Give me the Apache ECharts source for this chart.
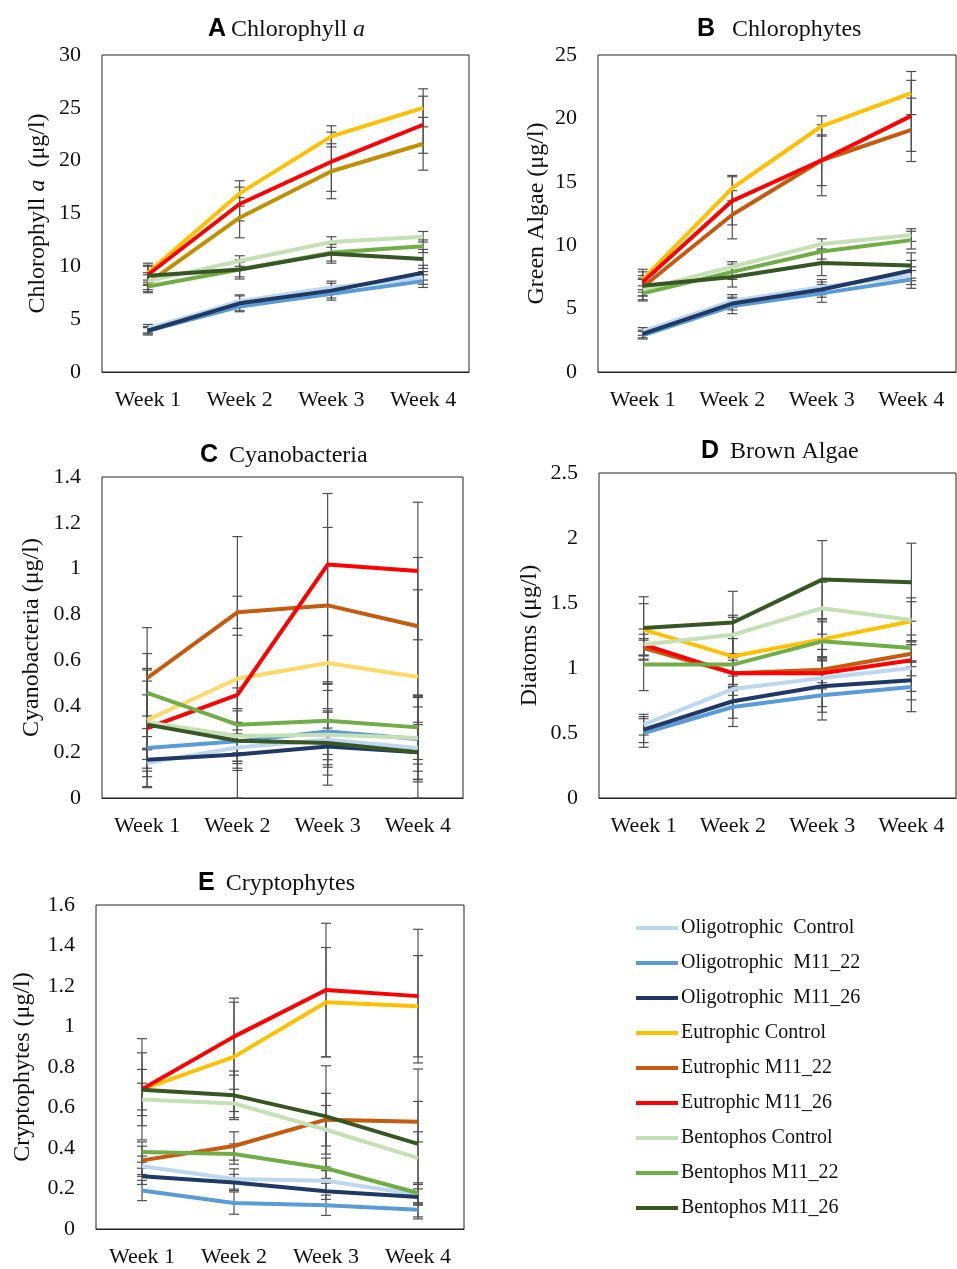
<!DOCTYPE html>
<html>
<head>
<meta charset="utf-8">
<script src="https://cdn.jsdelivr.net/npm/echarts@6/dist/echarts.min.js"></script>
<style>
  html, body { margin: 0; padding: 0; background: #fff; }
  #chart { width: 957px; height: 1269px; }
</style>
</head>
<body>
<div id="chart"></div>
<script>
const weeks = ["Week 1", "Week 2", "Week 3", "Week 4"];
const treatments = [
  "Oligotrophic  Control", "Oligotrophic  M11_22", "Oligotrophic  M11_26",
  "Eutrophic Control", "Eutrophic M11_22", "Eutrophic M11_26",
  "Bentophos Control", "Bentophos M11_22", "Bentophos M11_26"
];
const colors = ["#BDD7EE", "#5B9BD5", "#1F3864", "#FFC000", "#C55A11", "#FF0000", "#C5E0B4", "#70AD47", "#375623"];

// one row per treatment, one value per week
const chlA = [
  [4.1, 6.7, 8.0, 8.9], [3.9, 6.2, 7.4, 8.6], [3.9, 6.5, 7.7, 9.4],
  [9.4, 16.9, 22.3, 25.0], [8.4, 14.6, 19.0, 21.6], [9.2, 15.9, 19.9, 23.4],
  [8.6, 10.5, 12.3, 12.8], [8.1, 9.7, 11.3, 11.9], [9.1, 9.7, 11.2, 10.7]
];
const chlAErr = [
  [0.4, 0.6, 0.6, 0.6], [0.3, 0.5, 0.6, 0.6], [0.4, 0.7, 0.7, 0.7],
  [0.9, 1.2, 1.0, 1.8], [0.8, 1.9, 2.6, 2.5], [0.9, 1.6, 2.8, 2.7],
  [0.8, 0.5, 0.5, 0.5], [0.6, 0.7, 0.8, 0.6], [0.9, 0.9, 0.9, 0.9]
];
const greenAlgae = [
  [3.2, 5.6, 6.7, 7.6], [2.9, 5.2, 6.2, 7.3], [3.0, 5.4, 6.5, 8.0],
  [7.3, 14.5, 19.4, 22.0], [6.7, 12.4, 16.7, 19.1], [7.1, 13.5, 16.7, 20.2],
  [6.5, 8.3, 10.1, 10.8], [6.2, 7.9, 9.5, 10.4], [6.8, 7.5, 8.6, 8.4]
];
const greenAlgaeErr = [
  [0.3, 0.5, 0.6, 0.7], [0.3, 0.6, 0.7, 0.7], [0.3, 0.5, 0.6, 0.8],
  [0.8, 1.0, 0.8, 1.7], [0.7, 1.9, 2.8, 2.5], [0.8, 1.9, 2.0, 2.8],
  [0.8, 0.4, 0.4, 0.5], [0.6, 0.6, 0.6, 0.7], [0.8, 0.8, 1.0, 1.0]
];
const cyano = [
  [0.153, 0.22, 0.254, 0.218], [0.218, 0.247, 0.29, 0.257], [0.167, 0.19, 0.225, 0.20],
  [0.34, 0.52, 0.589, 0.528], [0.523, 0.81, 0.84, 0.749], [0.305, 0.45, 1.018, 0.99],
  [0.33, 0.27, 0.276, 0.262], [0.458, 0.32, 0.337, 0.308], [0.32, 0.25, 0.24, 0.20]
];
const cyanoErr = [
  [0.06, 0.06, 0.12, 0.22], [0.05, 0.05, 0.10, 0.14], [0.05, 0.06, 0.08, 0.12],
  [0.29, 0.19, 0.12, 0.38], [0.22, 0.07, 0.34, 0.30], [0.26, 0.69, 0.31, 0.30],
  [0.12, 0.12, 0.22, 0.18], [0.10, 0.16, 0.17, 0.14], [0.19, 0.13, 0.14, 0.13]
];
const diatoms = [
  [0.564, 0.838, 0.923, 1.0], [0.50, 0.70, 0.79, 0.854], [0.526, 0.744, 0.86, 0.905],
  [1.295, 1.09, 1.22, 1.36], [1.154, 0.96, 0.987, 1.11], [1.18, 0.96, 0.96, 1.06],
  [1.18, 1.256, 1.46, 1.37], [1.026, 1.026, 1.205, 1.154], [1.308, 1.35, 1.68, 1.66]
];
const diatomsErr = [
  [0.08, 0.10, 0.22, 0.18], [0.11, 0.15, 0.19, 0.19], [0.10, 0.13, 0.20, 0.15],
  [0.20, 0.30, 0.15, 0.15], [0.06, 0.10, 0.10, 0.10], [0.08, 0.12, 0.12, 0.12],
  [0.12, 0.15, 0.20, 0.17], [0.20, 0.20, 0.15, 0.10], [0.24, 0.24, 0.30, 0.30]
];
const crypto = [
  [0.31, 0.247, 0.238, 0.17], [0.19, 0.128, 0.117, 0.095], [0.26, 0.23, 0.186, 0.158],
  [0.69, 0.85, 1.12, 1.10], [0.339, 0.41, 0.54, 0.53], [0.69, 0.95, 1.18, 1.15],
  [0.64, 0.62, 0.49, 0.35], [0.38, 0.37, 0.30, 0.178], [0.688, 0.66, 0.556, 0.42]
];
const cryptoErr = [
  [0.05, 0.05, 0.05, 0.05], [0.05, 0.055, 0.05, 0.035], [0.04, 0.04, 0.04, 0.04],
  [0.18, 0.27, 0.27, 0.25], [0.07, 0.07, 0.13, 0.10], [0.25, 0.19, 0.33, 0.33],
  [0.08, 0.07, 0.12, 0.13], [0.05, 0.05, 0.05, 0.05], [0.10, 0.12, 0.25, 0.37]
];

const serif = "Liberation Serif";
const sans = "Liberation Sans";

const panels = [
  { letter: "A", title: "Chlorophyll ", italic: "a", yName: "{t|Chlorophyll }{i|a}{t|  (μg/l)}",
    values: chlA, errors: chlAErr, max: 30, interval: 5,
    grid: { left: 102, top: 55, width: 367, height: 317 }, nameGap: 52,
    titlePos: { left: 203, top: 12 }, override: { 4: "#BF9000" } },
  { letter: "B", title: "  Chlorophytes", yName: "{t|Green Algae (μg/l)}",
    values: greenAlgae, errors: greenAlgaeErr, max: 25, interval: 5,
    grid: { left: 598, top: 55, width: 358, height: 317 }, nameGap: 49,
    titlePos: { left: 692, top: 12 }, override: {} },
  { letter: "C", title: " Cyanobacteria", yName: "{t|Cyanobacteria (μg/l)}",
    values: cyano, errors: cyanoErr, max: 1.4, interval: 0.2,
    grid: { left: 102, top: 477, width: 361, height: 321 }, nameGap: 58,
    titlePos: { left: 195, top: 438 }, override: { 3: "#FFD966" } },
  { letter: "D", title: " Brown Algae", yName: "{t|Diatoms (μg/l)}",
    values: diatoms, errors: diatomsErr, max: 2.5, interval: 0.5,
    grid: { left: 599, top: 473, width: 357, height: 325 }, nameGap: 57,
    titlePos: { left: 696, top: 434 }, override: {} },
  { letter: "E", title: " Cryptophytes", yName: "{t|Cryptophytes (μg/l)}",
    values: crypto, errors: cryptoErr, max: 1.6, interval: 0.2,
    grid: { left: 96, top: 905, width: 368, height: 324 }, nameGap: 61,
    titlePos: { left: 193, top: 866 }, override: {} }
];

function renderErrorBar(params, api) {
  const x = api.value(0);
  const lo = api.coord([x, api.value(1)]);
  const hi = api.coord([x, api.value(2)]);
  const half = 5;
  const style = { stroke: "#505050", lineWidth: 1.2 };
  return {
    type: "group",
    children: [
      { type: "line", shape: { x1: lo[0], y1: lo[1], x2: hi[0], y2: hi[1] }, style: style },
      { type: "line", shape: { x1: lo[0] - half, y1: lo[1], x2: lo[0] + half, y2: lo[1] }, style: style },
      { type: "line", shape: { x1: hi[0] - half, y1: hi[1], x2: hi[0] + half, y2: hi[1] }, style: style }
    ]
  };
}

const titles = [], grids = [], xAxes = [], yAxes = [], series = [];

panels.forEach(function (p, i) {
  const rich = {
    b: { fontFamily: sans, fontWeight: "bold", fontSize: 25, color: "#000" },
    t: { fontFamily: serif, fontWeight: "normal", fontSize: 24, color: "#111" },
    i: { fontFamily: serif, fontWeight: "normal", fontStyle: "italic", fontSize: 24, color: "#111" }
  };
  titles.push({
    text: "{b|" + p.letter + "} {t|" + p.title + "}" + (p.italic ? "{i|" + p.italic + "}" : ""),
    left: p.titlePos.left, top: p.titlePos.top,
    textStyle: { fontWeight: "normal", rich: rich }
  });
  grids.push(Object.assign({ show: true, borderColor: "#222", borderWidth: 1, backgroundColor: "transparent" }, p.grid));
  xAxes.push({
    type: "category", gridIndex: i, data: weeks, boundaryGap: true,
    axisTick: { show: false },
    axisLine: { show: true, lineStyle: { color: "#222", width: 1 } },
    axisLabel: { fontFamily: serif, fontSize: 22, color: "#111", margin: 17 }
  });
  yAxes.push({
    type: "value", gridIndex: i, min: 0, max: p.max, interval: p.interval,
    axisLine: { show: false }, axisTick: { show: false }, splitLine: { show: false },
    axisLabel: { fontFamily: serif, fontSize: 22, color: "#111", margin: 21 },
    name: p.yName, nameLocation: "middle", nameGap: p.nameGap,
    nameTextStyle: {
      rich: {
        t: { fontFamily: serif, fontSize: 24, color: "#111" },
        i: { fontFamily: serif, fontStyle: "italic", fontSize: 24, color: "#111" }
      }
    }
  });

  const errData = [];
  p.values.forEach(function (row, s) {
    row.forEach(function (v, w) {
      const e = p.errors[s][w];
      errData.push([w, Math.max(v - e, 0), v + e]);
    });
  });
  series.push({
    type: "custom", name: "err" + p.letter, xAxisIndex: i, yAxisIndex: i,
    renderItem: renderErrorBar, data: errData, z: 2, silent: true
  });

  p.values.forEach(function (row, s) {
    const c = p.override[s] || colors[s];
    series.push({
      type: "line", name: treatments[s], xAxisIndex: i, yAxisIndex: i,
      data: row, symbol: "none", z: 3,
      lineStyle: { color: c, width: 4 }, itemStyle: { color: c }
    });
  });
});

const chart = echarts.init(document.getElementById("chart"));
chart.setOption({
  animation: false,
  backgroundColor: "#fff",
  title: titles,
  grid: grids,
  xAxis: xAxes,
  yAxis: yAxes,
  legend: {
    orient: "vertical", left: 636, top: 917, padding: 0,
    itemWidth: 42, itemHeight: 4, itemGap: 13, icon: "rect",
    selectedMode: false,
    textStyle: { fontFamily: serif, fontSize: 20, color: "#111", lineHeight: 22, padding: [0, 0, 0, -2] },
    data: treatments.map(function (n, s) {
      return { name: n, itemStyle: { color: colors[s] } };
    })
  },
  series: series
});
</script>
</body>
</html>
